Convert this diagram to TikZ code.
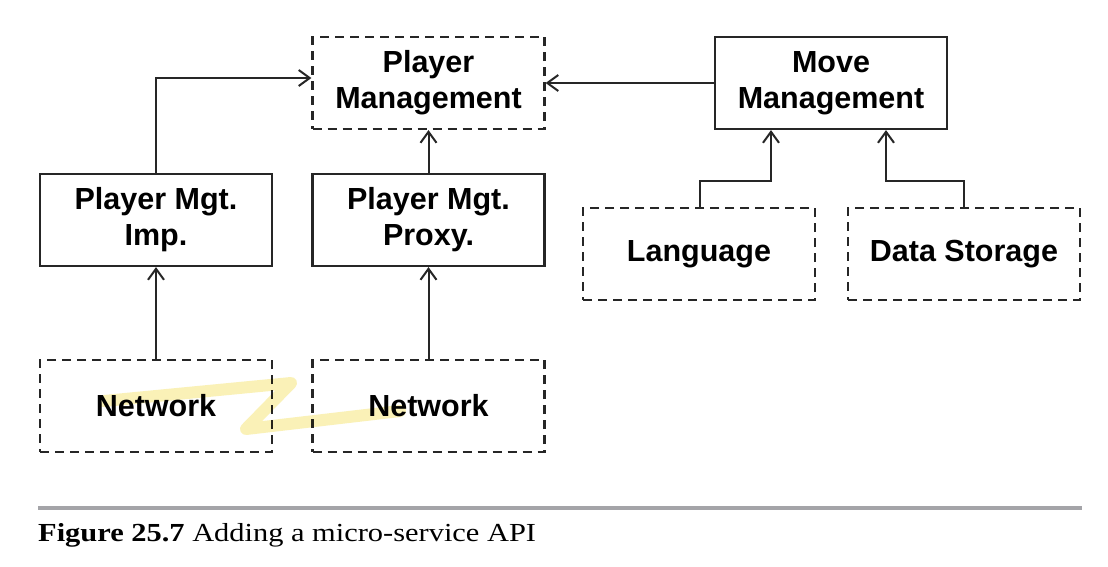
\documentclass[tikz,border=0pt]{standalone}
\usepackage{fontspec}
\setmainfont{Liberation Serif}
\newfontfamily\boxfont{Liberation Sans}
\newfontfamily\capfont[FakeStretch=1.17]{Liberation Serif}
\usetikzlibrary{arrows.meta}
\definecolor{rulegray}{HTML}{A4A4A8}
\definecolor{hilite}{HTML}{F9EEA6}
\tikzset{
  box/.style={draw=black!85, line width=2.2pt, minimum width=232pt, minimum height=92pt,
    align=center, inner sep=0pt, font=\boxfont\bfseries\fontsize{30.5}{36}\selectfont},
  solidbox/.style={box},
  dashbox/.style={box, dash pattern=on 9pt off 6pt},
  link/.style={draw=black!85, line width=2pt, -{Straight Barb[length=11pt,width=16pt,line width=2pt]}},
}
\begin{document}
\begin{tikzpicture}[x=1pt,y=-1pt]
\fill[white] (0,0) rectangle (1108,566);
\useasboundingbox (0,0) rectangle (1108,566);
\node[dashbox]  (pm)   at (428.5,83)  {Player\\Management};
\node[solidbox] (mm)   at (831,83)    {Move\\Management};
\node[solidbox] (imp)  at (156,220)   {Player Mgt.\\Imp.};
\node[solidbox] (prx)  at (428.5,220) {Player Mgt.\\Proxy.};
\node[dashbox]  (lang) at (699,254)   {Language};
\node[dashbox]  (ds)   at (964,254)   {Data Storage};
\node[dashbox]  (net1) at (156,406)   {Network};
\node[dashbox]  (net2) at (428.5,406) {Network};
\coordinate (c1) at (156,78);
\coordinate (c2) at (700,181);
\coordinate (c3) at (771,181);
\coordinate (c4) at (964,181);
\coordinate (c5) at (886,181);
\draw[link] (imp.north) -- (c1) -- (pm.west |- c1);
\draw[link] (prx.north) -- (pm.south);
\draw[link] (mm.west) -- (pm.east);
\draw[link] (lang.north -| c2) -- (c2) -- (c3) -- (mm.south -| c3);
\draw[link] (ds.north -| c4) -- (c4) -- (c5) -- (mm.south -| c5);
\draw[link] (net1.north) -- (imp.south);
\draw[link] (net2.north) -- (prx.south);
\coordinate (z1) at (104,401);
\coordinate (z2) at (291,383);
\coordinate (z3) at (246,429);
\coordinate (z4) at (400,411);
\begin{scope}[blend mode=multiply]
\draw[hilite, opacity=0.8, line width=12pt, line cap=round, line join=round] (z1) -- (z2) -- (z3) -- (z4);
\end{scope}
\coordinate (r1) at (38,508);
\coordinate (r2) at (1082,508);
\draw[rulegray, line width=4.5pt] (r1) -- (r2);
\node[anchor=base west, inner sep=0pt, font=\capfont\fontsize{26}{30}\selectfont] (cap) at (38,541)
  {\textbf{Figure 25.7} Adding a micro-service API};
\end{tikzpicture}
\end{document}
